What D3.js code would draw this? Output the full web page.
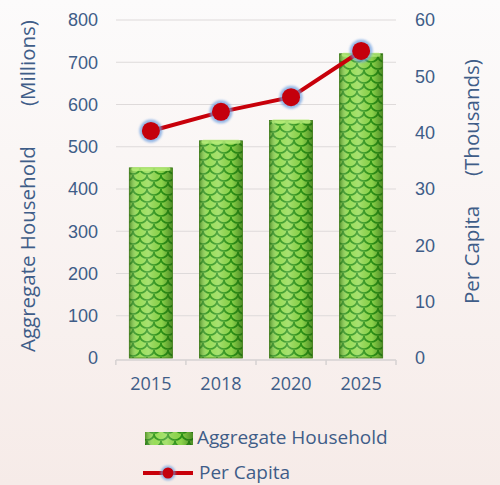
<!DOCTYPE html>
<html>
<head>
<meta charset="utf-8">
<script src="https://cdn.jsdelivr.net/npm/d3@7"></script>
<style>
  body { margin: 0; }
  svg { display: block; font-family: "Open Sans", sans-serif; }
</style>
</head>
<body>
<svg id="chart" width="500" height="485"></svg>
<script>
const years = ["2015", "2018", "2020", "2025"];
const household = [450, 514, 562, 720];   // millions
const perCapita = [40.3, 43.7, 46.3, 54.5]; // thousands
const leftTicks = [0, 100, 200, 300, 400, 500, 600, 700, 800];
const rightTicks = [0, 10, 20, 30, 40, 50, 60];

const svg = d3.select("#chart");
const width = +svg.attr("width");
const height = +svg.attr("height");
const textColor = "#3f5d88";

const defs = svg.append("defs");

const bg = defs.append("linearGradient").attr("id", "bg")
  .attr("x1", 0).attr("y1", 0).attr("x2", 0).attr("y2", 1);
bg.append("stop").attr("offset", "0%").attr("stop-color", "#fcfbfb");
bg.append("stop").attr("offset", "100%").attr("stop-color", "#f6ebe8");

// green fish-scale texture
const pat = defs.append("pattern").attr("id", "scales")
  .attr("patternUnits", "userSpaceOnUse")
  .attr("width", 14).attr("height", 14);
pat.append("rect").attr("width", 14).attr("height", 14).attr("fill", "#92da4e");
pat.append("path")
  .attr("d", "M0,0 A7,6 0 0 0 14,0 M-7,7 A7,6 0 0 0 7,7 M7,7 A7,6 0 0 0 21,7 M0,14 A7,6 0 0 0 14,14")
  .attr("fill", "none").attr("stroke", "#2c9418").attr("stroke-width", 1.7);

// cylinder shading
const shade = defs.append("linearGradient").attr("id", "shade")
  .attr("x1", 0).attr("y1", 0).attr("x2", 1).attr("y2", 0);
[["0%", "#1f5a0a", 0.55], ["20%", "#ffffff", 0.05], ["45%", "#ffffff", 0.2],
 ["75%", "#1f5a0a", 0.05], ["100%", "#1f5a0a", 0.6]].forEach(s => {
  shade.append("stop").attr("offset", s[0]).attr("stop-color", s[1]).attr("stop-opacity", s[2]);
});

const glow = defs.append("filter").attr("id", "glow")
  .attr("x", "-50%").attr("y", "-50%").attr("width", "200%").attr("height", "200%");
glow.append("feGaussianBlur").attr("stdDeviation", 1.2);

svg.append("rect").attr("width", width).attr("height", height).attr("fill", "url(#bg)");

const plot = { left: 116, right: 396, top: 20, bottom: 358 };

const x = d3.scaleBand().domain(years).range([plot.left, plot.right]).paddingInner(0.385).paddingOuter(0.19);
const yL = d3.scaleLinear().domain([0, 800]).range([plot.bottom, plot.top]);
const yR = d3.scaleLinear().domain([0, 60]).range([plot.bottom, plot.top]);

// gridlines
svg.append("g").selectAll("line")
  .data(leftTicks.slice(1))
  .join("line")
  .attr("x1", plot.left).attr("x2", plot.right)
  .attr("y1", d => yL(d)).attr("y2", d => yL(d))
  .attr("stroke", "#dedada").attr("stroke-width", 1.2);

// left axis
const leftAxis = svg.append("g")
  .attr("transform", `translate(${plot.left - 18},0)`)
  .call(d3.axisLeft(yL).tickValues(leftTicks).tickSize(0).tickPadding(0));
leftAxis.select(".domain").remove();
leftAxis.selectAll("text").attr("fill", textColor).style("font-size", "18px");

// right axis
const rightAxis = svg.append("g")
  .attr("transform", `translate(${plot.right + 19},0)`)
  .call(d3.axisRight(yR).tickValues(rightTicks).tickSize(0).tickPadding(0));
rightAxis.select(".domain").remove();
rightAxis.selectAll("text").attr("fill", textColor).style("font-size", "18px");

// bottom axis
const bottomY = plot.bottom + 2;
svg.append("line")
  .attr("x1", plot.left).attr("x2", plot.right)
  .attr("y1", bottomY).attr("y2", bottomY)
  .attr("stroke", "#d6d2d2").attr("stroke-width", 1.5);
const bounds = years.map(d => x(d) - x.step() * x.paddingInner() / 2).concat([plot.right]);
svg.append("g").selectAll("line")
  .data(bounds)
  .join("line")
  .attr("x1", d => d).attr("x2", d => d)
  .attr("y1", bottomY).attr("y2", bottomY + 5)
  .attr("stroke", "#d6d2d2").attr("stroke-width", 1.5);
svg.append("g").selectAll("text")
  .data(years)
  .join("text")
  .attr("x", d => x(d) + x.bandwidth() / 2)
  .attr("y", 390)
  .attr("text-anchor", "middle")
  .attr("fill", textColor)
  .style("font-size", "18px")
  .text(d => d);

// bars
const bars = svg.append("g");
bars.selectAll("rect.base")
  .data(years)
  .join("rect")
  .attr("class", "base")
  .attr("x", d => x(d))
  .attr("y", (d, i) => yL(household[i]))
  .attr("width", x.bandwidth())
  .attr("height", (d, i) => yL(0) - yL(household[i]))
  .attr("fill", "url(#scales)");
bars.selectAll("rect.shade")
  .data(years)
  .join("rect")
  .attr("class", "shade")
  .attr("x", d => x(d))
  .attr("y", (d, i) => yL(household[i]))
  .attr("width", x.bandwidth())
  .attr("height", (d, i) => yL(0) - yL(household[i]))
  .attr("fill", "url(#shade)")
  .attr("stroke", "#3f7a1a").attr("stroke-width", 0.8);
bars.selectAll("rect.cap")
  .data(years)
  .join("rect")
  .attr("class", "cap")
  .attr("x", d => x(d) + 2)
  .attr("y", (d, i) => yL(household[i]) - 1)
  .attr("width", x.bandwidth() - 4)
  .attr("height", 4)
  .attr("rx", 2)
  .attr("fill", "#b8ee7a").attr("opacity", 0.8);

// per capita line
const line = d3.line()
  .x((d, i) => x(years[i]) + x.bandwidth() / 2)
  .y(d => yR(d));
svg.append("path")
  .datum(perCapita)
  .attr("d", line)
  .attr("fill", "none")
  .attr("stroke", "#c8000a")
  .attr("stroke-width", 4);
const pts = svg.append("g").selectAll("g")
  .data(perCapita)
  .join("g")
  .attr("transform", (d, i) => `translate(${x(years[i]) + x.bandwidth() / 2},${yR(d)})`);
pts.append("circle").attr("r", 11.5).attr("fill", "#6d9fe0").attr("opacity", 0.7).attr("filter", "url(#glow)");
pts.append("circle").attr("r", 9).attr("fill", "#c4000c");

// axis titles
const titleStyle = sel => sel.attr("fill", textColor).style("font-size", "20.5px");
svg.append("text")
  .attr("transform", "translate(35,352) rotate(-90)")
  .call(titleStyle).text("Aggregate Household");
svg.append("text")
  .attr("transform", "translate(35,106) rotate(-90)")
  .call(titleStyle).text("(Millions)");
svg.append("text")
  .attr("transform", "translate(479,304) rotate(-90)")
  .call(titleStyle).text("Per Capita");
svg.append("text")
  .attr("transform", "translate(479,176) rotate(-90)")
  .call(titleStyle).text("(Thousands)");

// legend
const legend = svg.append("g");
legend.append("rect")
  .attr("x", 145).attr("y", 432).attr("width", 48).attr("height", 13)
  .attr("fill", "url(#scales)");
legend.append("rect")
  .attr("x", 145).attr("y", 432).attr("width", 48).attr("height", 13)
  .attr("fill", "url(#shade)");
legend.append("text")
  .attr("x", 197).attr("y", 444)
  .attr("fill", textColor).style("font-size", "19px")
  .text("Aggregate Household");
legend.append("line")
  .attr("x1", 143).attr("x2", 193).attr("y1", 473).attr("y2", 473)
  .attr("stroke", "#c8000a").attr("stroke-width", 4);
legend.append("circle").attr("cx", 168).attr("cy", 473).attr("r", 7.5)
  .attr("fill", "#6d9fe0").attr("opacity", 0.7).attr("filter", "url(#glow)");
legend.append("circle").attr("cx", 168).attr("cy", 473).attr("r", 5.5).attr("fill", "#c4000c");
legend.append("text")
  .attr("x", 199).attr("y", 479)
  .attr("fill", textColor).style("font-size", "19px")
  .text("Per Capita");
</script>
</body>
</html>
